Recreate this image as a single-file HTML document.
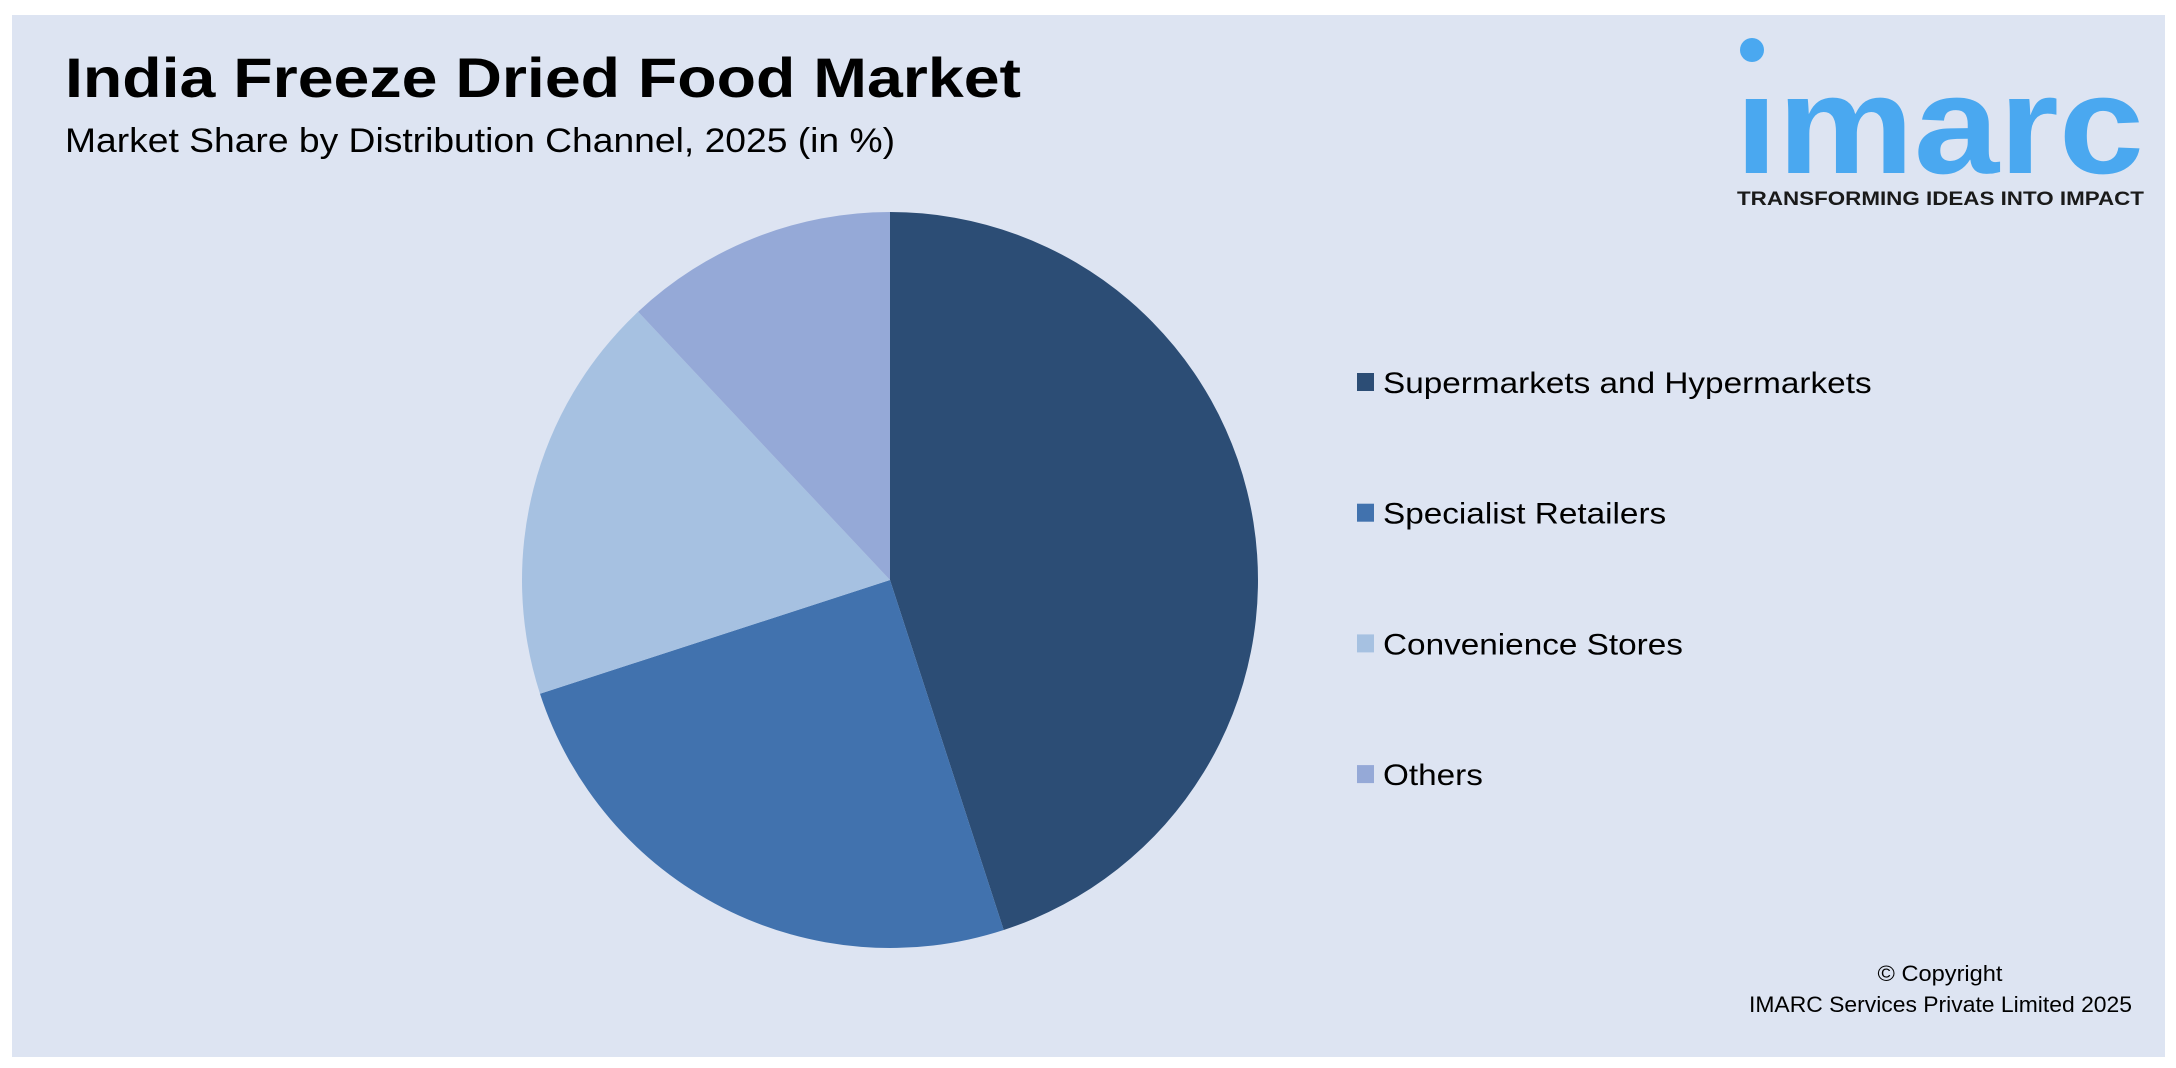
<!DOCTYPE html>
<html><head><meta charset="utf-8"><style>
html,body{margin:0;padding:0;background:#fff;}
svg{display:block;font-family:"Liberation Sans",sans-serif;}
</style></head><body>
<svg id="chart" width="2176" height="1068" viewBox="0 0 2176 1068">
<rect x="12" y="15" width="2153" height="1042" fill="#dde4f2"/>
<text x="65" y="97" font-size="56" font-weight="bold" fill="#000" textLength="956" lengthAdjust="spacingAndGlyphs">India Freeze Dried Food Market</text>
<text x="65" y="152" font-size="34" fill="#000" textLength="830" lengthAdjust="spacingAndGlyphs">Market Share by Distribution Channel, 2025 (in %)</text>
<g>
<circle cx="1752" cy="50" r="12" fill="#4aa8f0"/>
<text x="1735" y="173" font-size="140" font-weight="bold" fill="#4aa8f0" textLength="409" lengthAdjust="spacingAndGlyphs">ımarc</text>
<text x="1737" y="205" font-size="19" font-weight="bold" fill="#1a1a1a" textLength="407" lengthAdjust="spacingAndGlyphs">TRANSFORMING IDEAS INTO IMPACT</text>
</g>
<g id="pie"></g>
<g id="legend"></g>
<text x="1940" y="981" font-size="22" text-anchor="middle" fill="#000" textLength="125" lengthAdjust="spacingAndGlyphs">© Copyright</text>
<text x="1749" y="1012" font-size="22" fill="#000" textLength="383" lengthAdjust="spacingAndGlyphs">IMARC Services Private Limited 2025</text>
</svg>
<script>
const categories = ["Supermarkets and Hypermarkets","Specialist Retailers","Convenience Stores","Others"];
const shares = [45, 25, 18, 12];
const colors = ["#2c4d75","#4172ae","#a6c1e1","#95a9d7"];
const NS="http://www.w3.org/2000/svg";
const cx=890, cy=580, r=368;
const total=shares.reduce((a,b)=>a+b,0);
const pie=document.getElementById('pie');
const legend=document.getElementById('legend');
function pt(a){return [cx+r*Math.sin(a), cy-r*Math.cos(a)];}
let acc=0;
shares.forEach((v,i)=>{
  const a0=acc/total*2*Math.PI; acc+=v; const a1=acc/total*2*Math.PI;
  const p0=pt(a0), p1=pt(a1);
  const large=(a1-a0)>Math.PI?1:0;
  const path=document.createElementNS(NS,'path');
  path.setAttribute('d',`M${cx},${cy} L${p0[0]},${p0[1]} A${r},${r} 0 ${large} 1 ${p1[0]},${p1[1]} Z`);
  path.setAttribute('fill',colors[i]);
  
  
  pie.appendChild(path);
  const y=382+i*130.7;
  const sq=document.createElementNS(NS,'rect');
  sq.setAttribute('x',1357); sq.setAttribute('y',y-9); sq.setAttribute('width',17); sq.setAttribute('height',18);
  sq.setAttribute('fill',colors[i]);
  
  
  legend.appendChild(sq);
  const t=document.createElementNS(NS,'text');
  t.setAttribute('x',1383); t.setAttribute('y',y+11);
  t.setAttribute('font-size',30); t.setAttribute('fill','#000');
  t.textContent=categories[i];
  
  
  legend.appendChild(t);
  const w=t.getComputedTextLength();
  t.setAttribute('textLength', (w*1.11).toFixed(1));
  t.setAttribute('lengthAdjust','spacingAndGlyphs');
});
</script>
</body></html>
